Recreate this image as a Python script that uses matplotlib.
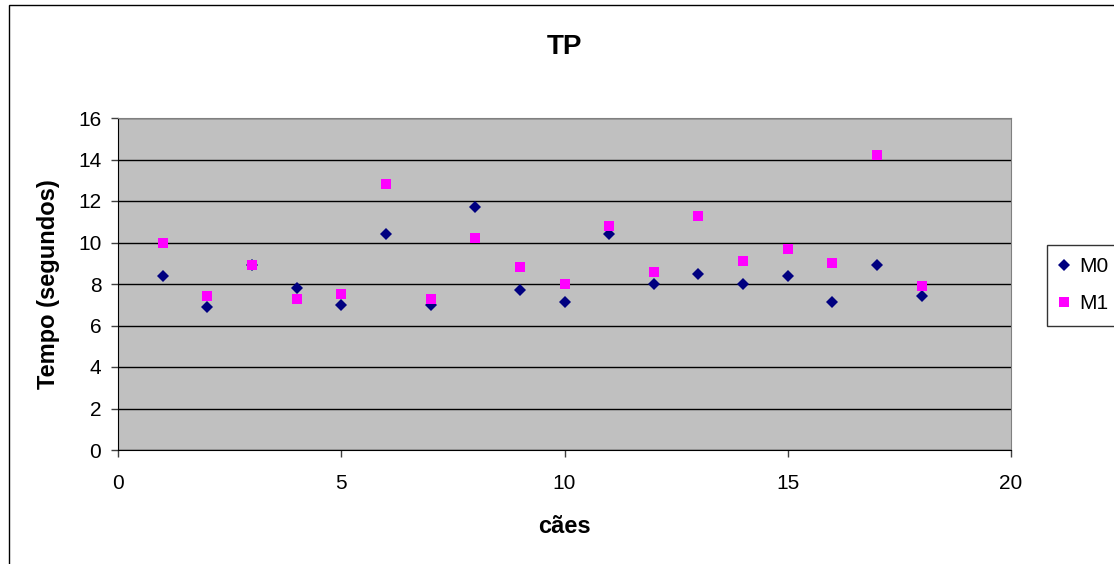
import matplotlib.pyplot as plt
from matplotlib.patches import Rectangle

# dados
caes = list(range(1, 19))
m0 = [8.4, 6.9, 8.9, 7.8, 7.0, 10.4, 7.0, 11.7, 7.7, 7.15, 10.4, 8.0, 8.5, 8.0, 8.4, 7.15, 8.9, 7.4]
m1 = [10.0, 7.4, 8.9, 7.3, 7.5, 12.8, 7.3, 10.2, 8.8, 8.0, 10.8, 8.6, 11.3, 9.1, 9.7, 9.0, 14.2, 7.9]
y_ticks = [0, 2, 4, 6, 8, 10, 12, 14, 16]
x_ticks = [0, 5, 10, 15, 20]

plt.rcParams['font.family'] = ['Liberation Sans', 'DejaVu Sans']

fig = plt.figure(figsize=(11.14, 5.64), dpi=100)
W, H = 1114, 564
ax = fig.add_axes([118 / W, 1 - 450 / H, (1011 - 118) / W, (450 - 118) / H])

# moldura externa do gráfico
fig.patches.append(Rectangle((9 / W, -0.1), 1.2, 1 - 5 / H + 0.1, transform=fig.transFigure,
                             fill=False, edgecolor='black', linewidth=1.0))

ax.set_facecolor('#c0c0c0')
ax.plot(caes, m0, linestyle='none', marker='D', markersize=6.6, color='#000080',
        markeredgewidth=0, label='M0', zorder=3)
ax.plot(caes, m1, linestyle='none', marker='s', markersize=7.8, color='#ff00ff',
        markeredgewidth=0, label='M1', zorder=3)

ax.set_xlim(0, 20)
ax.set_ylim(0, 16)
ax.set_xticks(x_ticks)
ax.set_yticks(y_ticks)
ax.yaxis.grid(True, color='black', linewidth=1.0)
ax.set_axisbelow(True)
ax.tick_params(direction='out', length=5, width=1, labelsize=15, color='#404040')
ax.tick_params(axis='x', pad=12)
ax.tick_params(axis='y', pad=7)

ax.spines['left'].set_color('black')
ax.spines['bottom'].set_color('black')
ax.spines['top'].set_color('#808080')
ax.spines['right'].set_color('#808080')

ax.set_title('TP', fontsize=20, fontweight='bold', pad=46)
ax.set_xlabel('cães', fontsize=17, fontweight='bold', labelpad=16)
ax.set_ylabel('Tempo (segundos)', fontsize=17, fontweight='bold', labelpad=13)

leg = ax.legend(loc='upper left', bbox_to_anchor=(1047 / W, 1 - 245 / H), bbox_transform=fig.transFigure,
                frameon=True, fancybox=False, fontsize=15, handlelength=0.45, handletextpad=0.5,
                borderpad=0.6, labelspacing=0.85, borderaxespad=0)
leg.get_frame().set_edgecolor('black')
leg.get_frame().set_linewidth(1.0)

fig.savefig('out.png', dpi=100)
